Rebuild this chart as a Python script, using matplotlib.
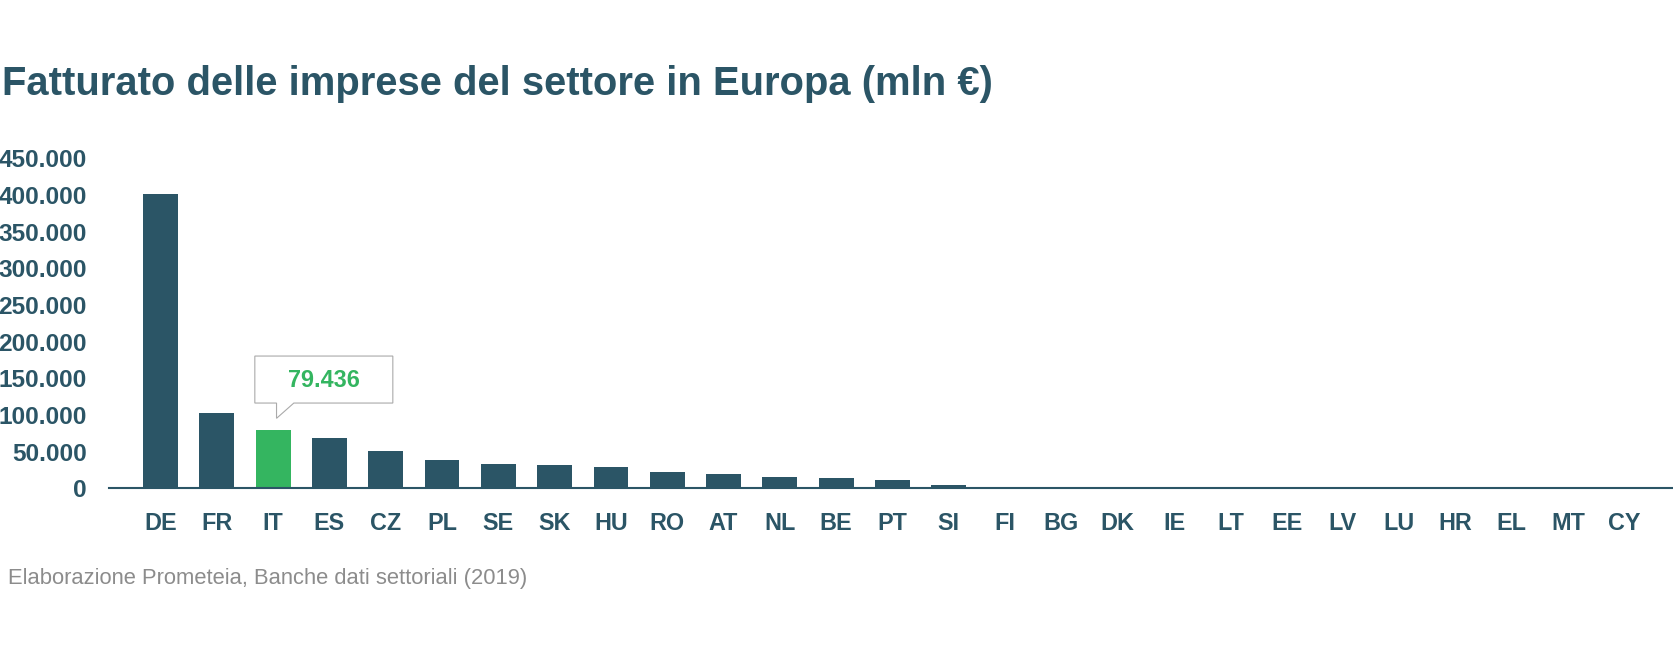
import matplotlib
matplotlib.use("Agg")
import matplotlib.pyplot as plt
import matplotlib.transforms as mtransforms
from matplotlib.patches import Polygon
from matplotlib.ticker import FuncFormatter

# ---- data ----
countries = ["DE", "FR", "IT", "ES", "CZ", "PL", "SE", "SK", "HU", "RO", "AT", "NL", "BE",
             "PT", "SI", "FI", "BG", "DK", "IE", "LT", "EE", "LV", "LU", "HR", "EL", "MT", "CY"]
revenue = [402000, 102500, 79436, 68400, 50800, 39100, 33600, 31300, 28600, 21800, 20000,
           15800, 13600, 10900, 4000, 600, 500, 400, 350, 300, 250, 200, 150, 150, 100, 50, 30]
highlight = "IT"
highlight_label = "79.436"
y_ticks = [0, 50000, 100000, 150000, 200000, 250000, 300000, 350000, 400000, 450000]

title = "Fatturato delle imprese del settore in Europa (mln €)"
source = "Elaborazione Prometeia, Banche dati settoriali (2019)"

DARK = "#2b5566"
GREEN = "#34b560"
GRAY = "#8c8c8c"

plt.rcParams["font.family"] = ["Liberation Sans", "DejaVu Sans"]

W, H = 1674, 663
fig = plt.figure(figsize=(W / 100, H / 100), dpi=100)
ax = fig.add_axes([109 / W, (H - 488.3) / H, 1 - 109 / W, (488.3 - 158.3) / H])

colors = [GREEN if c == highlight else DARK for c in countries]
x = list(range(len(countries)))
ax.bar(x, revenue, width=0.62, color=colors, zorder=2)

ax.set_xlim(-0.915, 26.88)
ax.set_ylim(0, 450000)
ax.set_yticks(y_ticks)
ax.yaxis.set_major_formatter(FuncFormatter(lambda v, p: f"{int(v):,}".replace(",", ".")))
ax.set_xticks(x)
ax.set_xticklabels(countries)

for s in ["top", "right", "left"]:
    ax.spines[s].set_visible(False)
ax.spines["bottom"].set_color(DARK)
ax.spines["bottom"].set_linewidth(1.5)
ax.spines["bottom"].set_zorder(3)

ax.tick_params(axis="y", length=0, pad=16, labelsize=17.6, labelcolor=DARK)
ax.tick_params(axis="x", length=0, pad=17, labelsize=16.8, labelcolor=DARK)
for lab in ax.get_xticklabels() + ax.get_yticklabels():
    lab.set_fontweight("bold")

# ---- callout on highlighted bar ----
hi = countries.index(highlight)
anchor = mtransforms.IdentityTransform() + mtransforms.ScaledTranslation(hi, revenue[hi], ax.transData)
pts = [(-18.3, 27), (3.4, 27), (3.4, 11.7), (20.7, 27), (119.7, 27), (119.7, 74), (-18.3, 74)]
poly = Polygon(pts, closed=True, facecolor="white", edgecolor="#aaaaaa", linewidth=0.8,
               transform=anchor, clip_on=False, zorder=5)
ax.add_artist(poly)
ax.text(50.7, 49.3, highlight_label, transform=anchor, ha="center", va="center",
        fontsize=16.8, fontweight="bold", color=GREEN, zorder=6)

# ---- title & source ----
fig.text(2 / W, (H - 95) / H, title, ha="left", va="baseline", fontsize=28.8,
         fontweight="bold", color=DARK)
fig.text(8 / W, (H - 584) / H, source, ha="left", va="baseline", fontsize=15.8, color=GRAY)

fig.savefig("out.png", dpi=100, facecolor="white")
